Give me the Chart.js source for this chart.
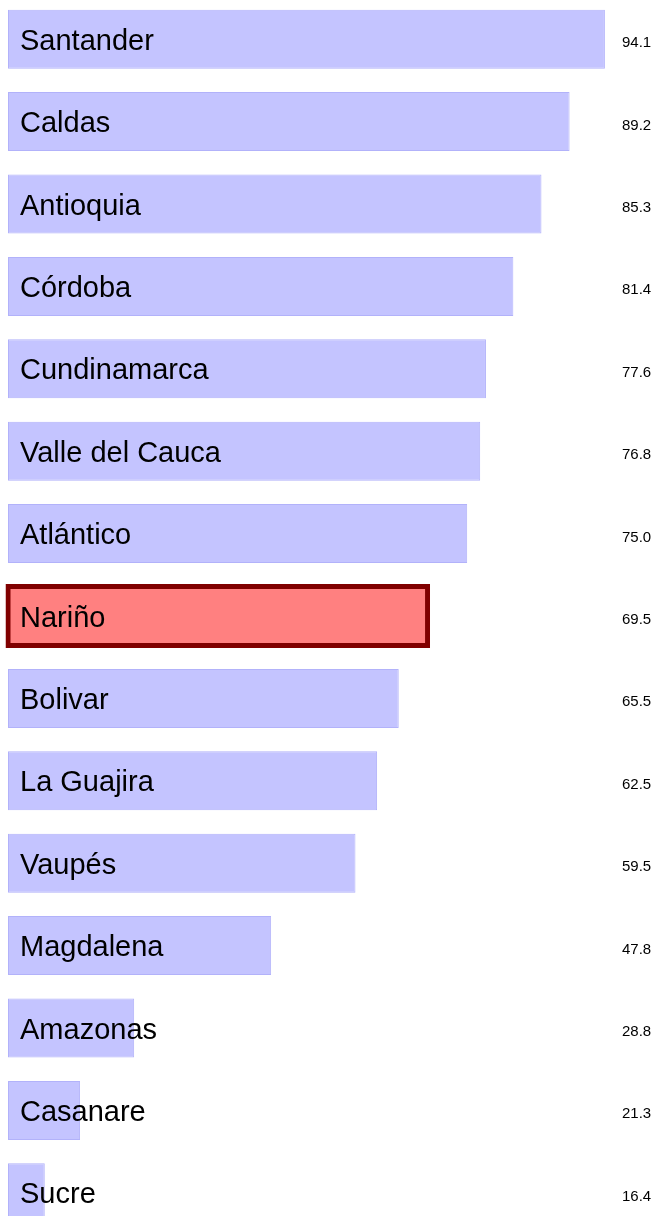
<!DOCTYPE html>
<html>
<head>
<meta charset="utf-8">
<script src="https://cdn.jsdelivr.net/npm/chart.js@4.4.1/dist/chart.umd.min.js"></script>
<style>
    html, body { margin: 0; padding: 0; background: #fff; overflow: hidden; }
    #wrap { position: absolute; left: 0; top: -2px; width: 657px; height: 1236px; }
</style>
</head>
<body>
<div id="wrap"><canvas id="chart" width="657" height="1236"></canvas></div>
<script>
// Departamentos y valores
const departments = ['Santander', 'Caldas', 'Antioquia', 'Córdoba', 'Cundinamarca', 'Valle del Cauca',
    'Atlántico', 'Nariño', 'Bolivar', 'La Guajira', 'Vaupés', 'Magdalena', 'Amazonas', 'Casanare', 'Sucre'];
const values = [94.1, 89.2, 85.3, 81.4, 77.6, 76.8, 75.0, 69.5, 65.5, 62.5, 59.5, 47.8, 28.8, 21.3, 16.4];
const highlighted = 'Nariño';

// Rango del eje (oculto)
const X_MIN = 11.3;
const X_MAX = 95.5;

const hiIndex = departments.indexOf(highlighted);

// Etiquetas dentro de las barras y valores a la derecha
const labelsPlugin = {
    id: 'barLabels',
    afterDatasetsDraw(chart) {
        const ctx = chart.ctx;
        const meta = chart.getDatasetMeta(0);
        ctx.save();
        meta.data.forEach(function(bar, i) {
            ctx.fillStyle = '#000';
            ctx.textAlign = 'left';
            ctx.textBaseline = 'alphabetic';
            ctx.font = '29px "Liberation Sans", Arial, sans-serif';
            ctx.fillText(departments[i], chart.chartArea.left + 12, bar.y + 10.5);
            ctx.font = '15px "Liberation Sans", Arial, sans-serif';
            ctx.fillText(values[i].toFixed(1), 622, bar.y + 8);
        });
        ctx.restore();
    }
};

new Chart(document.getElementById('chart'), {
    type: 'bar',
    data: {
        labels: departments,
        datasets: [{
            data: values,
            base: X_MIN,
            backgroundColor: departments.map((d, i) => i === hiIndex ? '#ff8080' : '#c4c4ff'),
            borderColor: departments.map((d, i) => i === hiIndex ? '#800000' : '#b2b2fa'),
            borderWidth: departments.map((d, i) => i === hiIndex ? 5 : 1),
            inflateAmount: departments.map((d, i) => i === hiIndex ? 2.5 : 0),
            borderSkipped: false,
            barThickness: 59,
            clip: false
        }]
    },
    options: {
        indexAxis: 'y',
        responsive: false,
        devicePixelRatio: 1,
        animation: false,
        layout: { padding: { left: 8, right: 42, top: 0, bottom: 0 } },
        plugins: {
            legend: { display: false },
            tooltip: { enabled: false }
        },
        scales: {
            x: { display: false, min: X_MIN, max: X_MAX },
            y: { display: false, offset: true }
        }
    },
    plugins: [labelsPlugin]
});
</script>
</body>
</html>
